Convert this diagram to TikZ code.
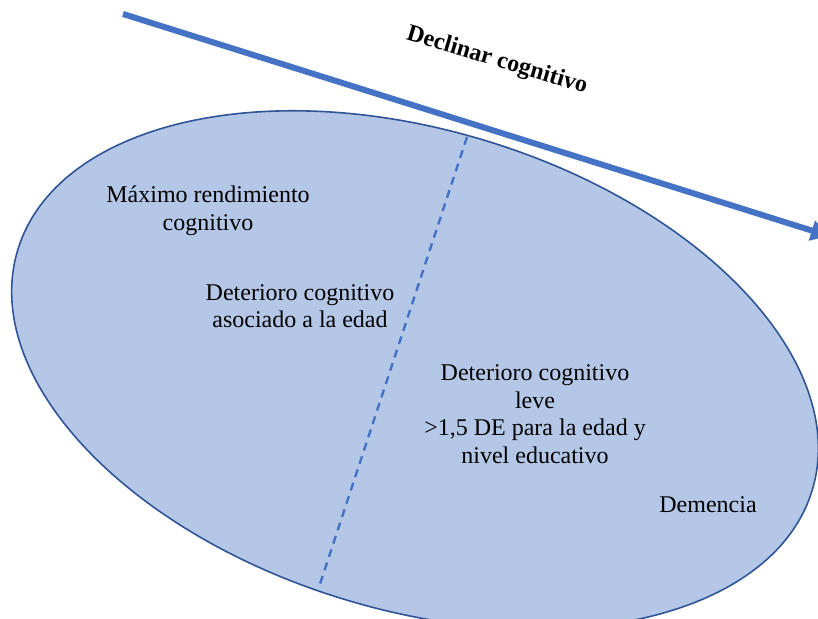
\documentclass[tikz,border=0pt]{standalone}
\usepackage{fontspec}
\setmainfont{Liberation Serif}
\usepackage{tikz}
\usetikzlibrary{positioning, calc, arrows.meta}
\definecolor{accentblue}{HTML}{4472C4}
\definecolor{rimblue}{HTML}{2F5597}
\definecolor{paleblue}{HTML}{B4C7E7}

\begin{document}
\begin{tikzpicture}[
        x=0.5pt, y=0.5pt,
        oval/.style={draw=rimblue, fill=paleblue, line width=0.8pt},
        divide/.style={draw=accentblue, line width=1.2pt, dash pattern=on 4pt off 3pt},
        trend/.style={draw=accentblue, line width=3pt, -{Triangle[length=9pt, width=10pt]}},
        lbl/.style={font=\fontsize{12}{13.8}\selectfont, align=center, inner sep=0pt},
    ]

    \useasboundingbox (0,0) rectangle (818,618);
    \clip (0,0) rectangle (818,618);

    % ellipse of stages
    \draw[oval, shift={(415,248)}, rotate=-16.8] (0,0) ellipse [x radius=415, y radius=240];

    \coordinate (dtop) at (467,481);
    \coordinate (dbot) at (320,34);
    \draw[divide] (dtop) -- (dbot);

    % decline arrow
    \coordinate (astart) at (123,604);
    \coordinate (aend) at (829,382);
    \draw[trend] (astart) -- (aend);

    \node[lbl, font=\fontsize{12}{13.8}\bfseries, rotate=-16.5] (decline) at (497,557) {Declinar cognitivo};

    \node[lbl] (maximo) at (208,407) {Máximo rendimiento\\cognitivo};
    \node[lbl] (edad) at (300,312) {Deterioro cognitivo\\asociado a la edad};
    \node[lbl] (leve) at (535,204) {Deterioro cognitivo\\leve\\>1,5 DE para la edad y\\nivel educativo};
    \node[lbl] (demencia) at (708,113) {Demencia};

\end{tikzpicture}
\end{document}
